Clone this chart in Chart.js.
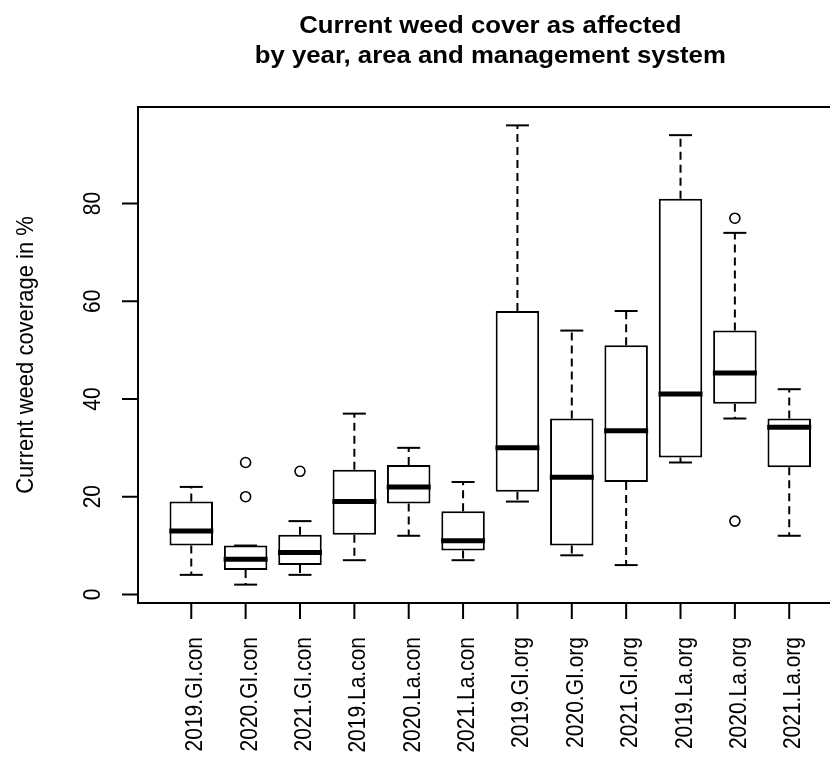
<!DOCTYPE html>
<html>
<head>
<meta charset="utf-8">
<title>Current weed cover</title>
<script src="https://cdn.jsdelivr.net/npm/chart.js@4.4.1/dist/chart.umd.min.js"></script>
<style>
  html, body { margin: 0; padding: 0; background: #fff; }
  canvas { display: block; }
</style>
</head>
<body>
<canvas id="chart" width="830" height="758"></canvas>
<script>
// Groups: year . area . management system
const categories = ['2019.GI.con', '2020.GI.con', '2021.GI.con', '2019.La.con', '2020.La.con', '2021.La.con',
                    '2019.GI.org', '2020.GI.org', '2021.GI.org', '2019.La.org', '2020.La.org', '2021.La.org'];

// Five-number summaries (weed cover, %)
const whiskerLow  = [4,  2,   4,    7,    12,   7,  19, 8,  6,    27, 36,   12];
const lowerQuart  = [10, 5,   6,    12.2, 18.6, 9,  21, 10, 23,   28, 39,   26];
const medians     = [13, 7.2, 8.6,  19,   22,   11, 30, 24, 33.5, 41, 45.3, 34.2];
const upperQuart  = [19, 10,  12.2, 25.5, 26.5, 17, 58, 36, 51,   81, 54,   36];
const whiskerHigh = [22, 10,  15,   37,   30,   23, 96, 54, 58,   94, 74,   42];

// Points beyond the whiskers, per group
const outliers = [[], [20, 27], [25.2], [], [], [], [], [], [], [], [77, 15], []];

// Axis ticks
const yTicks = [0, 20, 40, 60, 80];

const titleLines = ['Current weed cover as affected', 'by year, area and management system'];
const yTitle = 'Current weed coverage in %';

const positions = categories.map((_, i) => i + 1);

const medianPoints = positions.map((x, i) => ({ x, y: medians[i] }));
const capPoints = [];
const whiskerPath = [];
positions.forEach((x, i) => {
  capPoints.push({ x, y: whiskerHigh[i] }, { x, y: whiskerLow[i] });
  whiskerPath.push({ x, y: upperQuart[i] }, { x, y: whiskerHigh[i] }, { x, y: null },
                   { x, y: lowerQuart[i] }, { x, y: whiskerLow[i] }, { x, y: null });
});
const outlierPoints = [];
outliers.forEach((vals, i) => vals.forEach(v => outlierPoints.push({ x: positions[i], y: v })));
const boxes = positions.map((x, i) => ({ x, y: [lowerQuart[i], upperQuart[i]] }));

const FONT = "'Liberation Sans', Arial, sans-serif";
const STRETCH = 1.12;   // glyphs are a little wider than tall

// Frame, ticks and all text, in the style of a base-graphics boxplot
const framePlugin = {
  id: 'frameAndText',
  afterDraw(chart) {
    const { ctx, chartArea: a, scales: { x, y } } = chart;
    ctx.save();
    ctx.strokeStyle = '#000';
    ctx.fillStyle = '#000';
    ctx.lineWidth = 2;
    ctx.setLineDash([]);

    // plot frame (its right edge lies past the canvas)
    const fx0 = x.getPixelForValue(0.02), fx1 = x.getPixelForValue(12.98);
    ctx.strokeRect(fx0, a.top, fx1 - fx0, a.bottom - a.top);

    // y ticks and labels
    ctx.beginPath();
    yTicks.forEach(v => {
      const py = y.getPixelForValue(v);
      ctx.moveTo(a.left, py);
      ctx.lineTo(a.left - 16, py);
    });
    ctx.stroke();
    ctx.font = '21px ' + FONT;
    ctx.textAlign = 'center';
    ctx.textBaseline = 'alphabetic';
    yTicks.forEach(v => {
      const py = y.getPixelForValue(v);
      ctx.save();
      ctx.translate(a.left - 38, py);
      ctx.scale(STRETCH, 1);
      ctx.rotate(-Math.PI / 2);
      ctx.fillText(String(v), 0, 0);
      ctx.restore();
    });

    // x ticks and labels
    ctx.beginPath();
    positions.forEach(v => {
      const px = x.getPixelForValue(v);
      ctx.moveTo(px, a.bottom);
      ctx.lineTo(px, a.bottom + 16);
    });
    ctx.stroke();
    ctx.textAlign = 'right';
    positions.forEach((v, i) => {
      const px = x.getPixelForValue(v);
      ctx.save();
      ctx.translate(px + 11, a.bottom + 34);
      ctx.scale(STRETCH, 1);
      ctx.rotate(-Math.PI / 2);
      ctx.fillText(categories[i], 0, 0);
      ctx.restore();
    });

    // y axis title
    ctx.font = '22px ' + FONT;
    ctx.textAlign = 'center';
    ctx.save();
    ctx.translate(33, (a.top + a.bottom) / 2);
    ctx.scale(STRETCH, 1);
    ctx.rotate(-Math.PI / 2);
    ctx.fillText(yTitle, 0, 0);
    ctx.restore();

    // main title, centred over the plot region
    const cx = (fx0 + fx1) / 2;
    ctx.font = 'bold 23px ' + FONT;
    titleLines.forEach((line, k) => {
      ctx.save();
      ctx.translate(cx, 33 + k * 30);
      ctx.scale(STRETCH, 1);
      ctx.fillText(line, 0, 0);
      ctx.restore();
    });
    ctx.restore();
  }
};

new Chart(document.getElementById('chart'), {
  type: 'bar',
  data: {
    datasets: [
      { type: 'scatter', label: 'median', data: medianPoints, pointStyle: 'line', pointRadius: 22,
        borderColor: '#000', borderWidth: 5 },
      { type: 'scatter', label: 'caps', data: capPoints, pointStyle: 'line', pointRadius: 11.5,
        borderColor: '#000', borderWidth: 2 },
      { type: 'scatter', label: 'outliers', data: outlierPoints, pointStyle: 'circle', pointRadius: 5,
        borderColor: '#000', borderWidth: 1.6, backgroundColor: 'rgba(0,0,0,0)' },
      { type: 'bar', label: 'box', data: boxes, backgroundColor: '#fff', borderColor: '#000',
        borderWidth: 2, borderSkipped: false, barPercentage: 0.8, categoryPercentage: 1 },
      { type: 'line', label: 'whiskers', data: whiskerPath, borderColor: '#000', borderWidth: 2,
        borderDash: [8, 5], pointRadius: 0, spanGaps: false, fill: false, tension: 0 }
    ]
  },
  options: {
    responsive: false,
    animation: false,
    devicePixelRatio: 1,
    events: [],
    layout: { autoPadding: false, padding: { left: 138, top: 107, right: 0, bottom: 155 } },
    plugins: { legend: { display: false }, tooltip: { enabled: false }, title: { display: false } },
    scales: {
      x: {
        type: 'linear', display: false, offset: false, min: 0.02, max: 12.75,
        afterBuildTicks: axis => { axis.ticks = positions.map(v => ({ value: v })); }
      },
      y: { type: 'linear', display: false, min: -1.76, max: 99.76 }
    }
  },
  plugins: [framePlugin]
});
</script>
</body>
</html>
